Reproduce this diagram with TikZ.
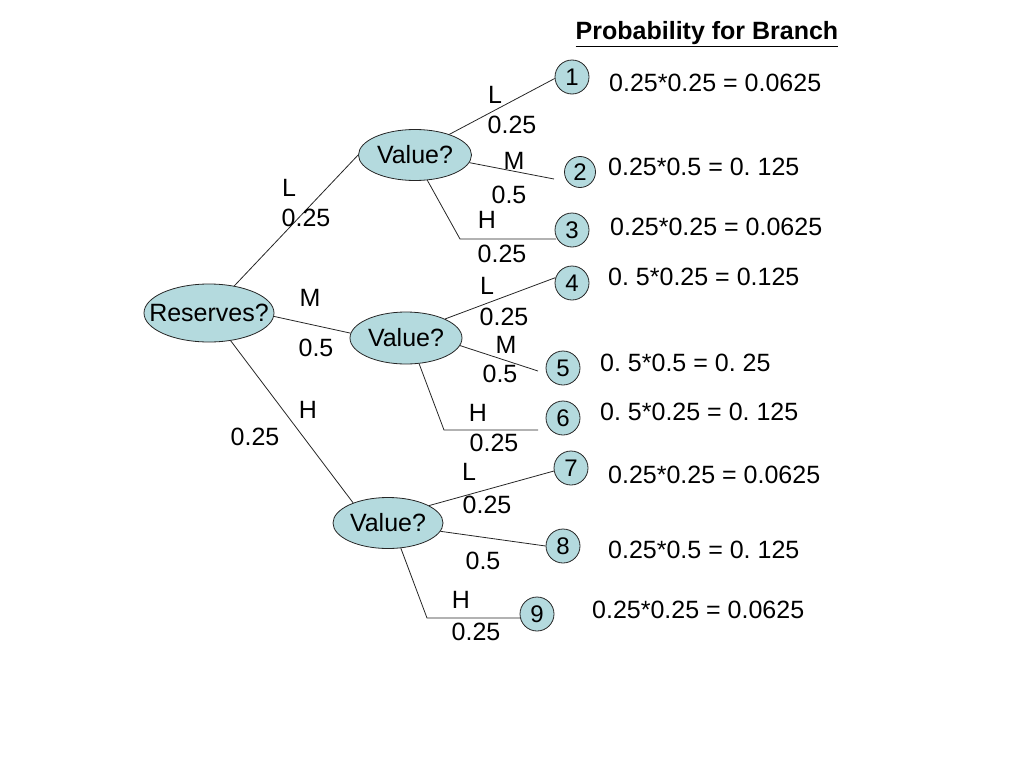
\documentclass[tikz,border=0pt]{standalone}
\usepackage{fontspec}
\setmainfont{Liberation Sans}
\usetikzlibrary{shapes.geometric}
\definecolor{nodefill}{RGB}{180,218,222}
\frenchspacing
\begin{document}
\begin{tikzpicture}[x=1pt,y=-1pt,
  every node/.style={font=\fontsize{25}{30}\selectfont, inner sep=0pt},
  decision/.style={ellipse, draw=black!85, line width=0.8pt, fill=nodefill},
  leaf/.style={circle, draw=black!85, line width=0.8pt, fill=nodefill, minimum size=34pt, font=\fontsize{24}{28}\selectfont},
  branch/.style={line width=0.8pt, draw=black!85},
  lbl/.style={anchor=center},
  res/.style={anchor=west}]
\useasboundingbox (0,0) rectangle (1024,768);

% title
\node (title) at (707,34) {\textbf{\underline{Probability for Branch}}};

% decision nodes
\node[decision, minimum width=130pt, minimum height=58pt] (r) at (209,313) {\makebox[0pt]{Reserves?}};
\node[decision, minimum width=113pt, minimum height=51pt] (v1) at (415,155) {\makebox[0pt]{Value?}};
\node[decision, minimum width=112pt, minimum height=52pt] (v2) at (406,338) {\makebox[0pt]{Value?}};
\node[decision, minimum width=110pt, minimum height=51pt] (v3) at (388,523) {\makebox[0pt]{Value?}};

% leaf nodes
\node[leaf] (c1) at (572,77) {1};
\node[leaf, minimum size=31pt] (c2) at (580,172) {2};
\node[leaf] (c3) at (572,230) {3};
\node[leaf] (c4) at (572,283) {4};
\node[leaf] (c5) at (563,368) {5};
\node[leaf] (c6) at (563,418) {6};
\node[leaf] (c7) at (571,468) {7};
\node[leaf] (c8) at (563,546) {8};
\node[leaf] (c9) at (537,614) {9};

% free ends and corners
\coordinate (e2) at (554,179);
\coordinate (k3) at (460,239);
\coordinate (e3) at (556,239);
\coordinate (e5) at (538,371);
\coordinate (k6) at (444,430);
\coordinate (e6) at (538,430);
\coordinate (k9) at (427,618);
\coordinate (e9) at (521,618);

% first-level branches
\draw[branch] (r.47) -- (v1.west);
\draw[branch] (r.-3) -- (v2.175);
\draw[branch] (r.-52) -- (v3.150);

% second-level branches
\draw[branch] (v1.31) -- (c1.185);
\draw[branch] (v1.-8) -- (e2);
\draw[branch] (v1.-64) -- (k3) -- (e3);
\draw[branch] (v2.26) -- (c4.162);
\draw[branch] (v2.-8) -- (e5);
\draw[branch] (v2.-63) -- (k6) -- (e6);
\draw[branch] (v3.23) -- (c7.190);
\draw[branch] (v3.-9) -- (c8.west);
\draw[branch] (v3.-63) -- (k9) -- (e9);

% first-level labels
\node[lbl] (l1a) at (289,188) {L};
\node[lbl] (l1b) at (306,218) {0.25};
\node[lbl] (l2a) at (310,298) {M};
\node[lbl] (l2b) at (316,348) {0.5};
\node[lbl] (l3a) at (308,410) {H};
\node[lbl] (l3b) at (255,437) {0.25};

% second-level labels
\node[lbl] (a1) at (495,95) {L};
\node[lbl] (a2) at (512,125) {0.25};
\node[lbl] (a3) at (514,161) {M};
\node[lbl] (a4) at (509,195) {0.5};
\node[lbl] (a5) at (487,220) {H};
\node[lbl] (a6) at (502,254) {0.25};
\node[lbl] (b1) at (487,286) {L};
\node[lbl] (b2) at (504,317) {0.25};
\node[lbl] (b3) at (506,345) {M};
\node[lbl] (b4) at (500,374) {0.5};
\node[lbl] (b5) at (478,413) {H};
\node[lbl] (b6) at (494,443) {0.25};
\node[lbl] (d1) at (469,472) {L};
\node[lbl] (d2) at (487,505) {0.25};
\node[lbl] (d4) at (483,561) {0.5};
\node[lbl] (d5) at (461,600) {H};
\node[lbl] (d6) at (476,632) {0.25};

% results
\node[res] (p1) at (609,83) {0.25*0.25 = 0.0625};
\node[res] (p2) at (608,167) {0.25*0.5 = 0. 125};
\node[res] (p3) at (610,227) {0.25*0.25 = 0.0625};
\node[res] (p4) at (608,277) {0. 5*0.25 = 0.125};
\node[res] (p5) at (600,363) {0. 5*0.5 = 0. 25};
\node[res] (p6) at (600,412) {0. 5*0.25 = 0. 125};
\node[res] (p7) at (608,475) {0.25*0.25 = 0.0625};
\node[res] (p8) at (608,550) {0.25*0.5 = 0. 125};
\node[res] (p9) at (592,610) {0.25*0.25 = 0.0625};
\end{tikzpicture}
\end{document}
